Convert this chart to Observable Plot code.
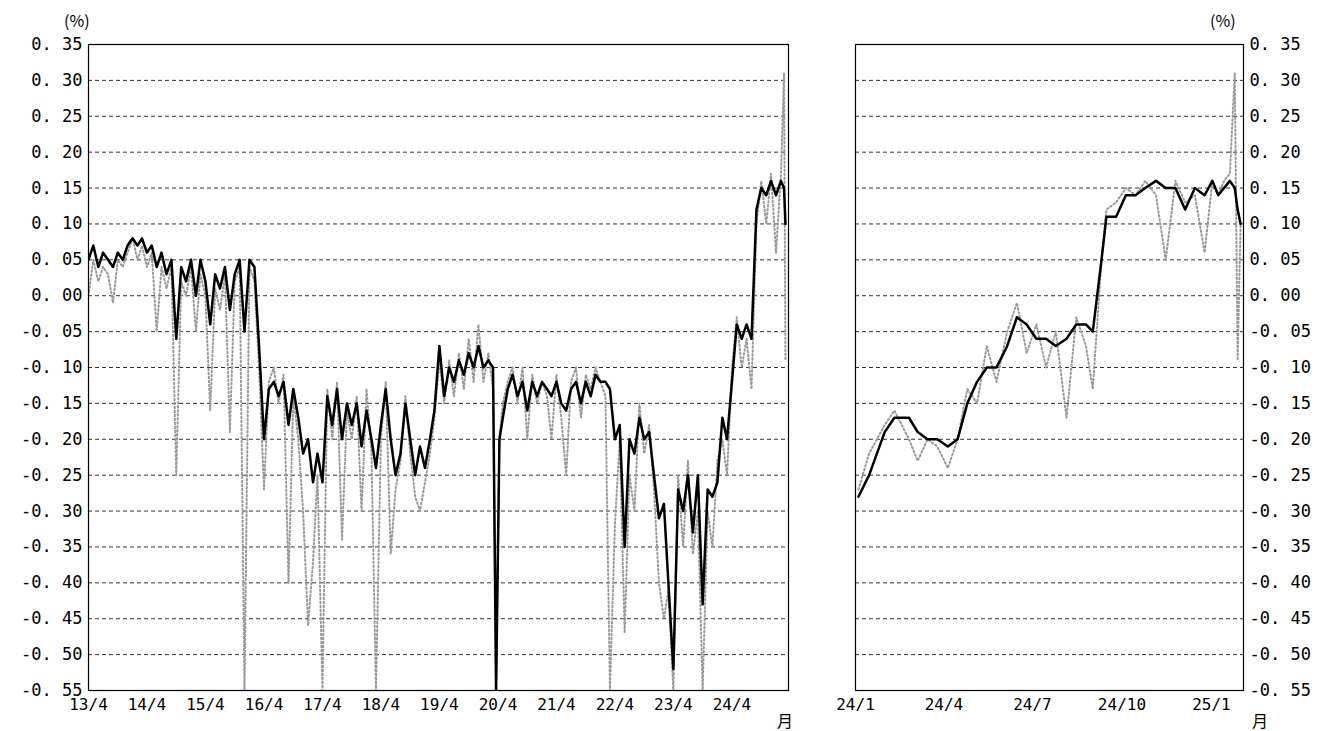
<!DOCTYPE html>
<html><head><meta charset="utf-8">
<script src="https://cdn.jsdelivr.net/npm/d3@7"></script>
<script src="https://cdn.jsdelivr.net/npm/@observablehq/plot@0.6"></script>
<style>
body{margin:0;background:#fff;font-family:"DejaVu Sans Mono","Noto Sans CJK JP",monospace;}
#wrap{position:relative;width:1323px;height:731px;}
.p{position:absolute;top:0}
.lbl{position:absolute;font-size:16px;font-family:"Noto Sans CJK JP",sans-serif;}
</style></head><body>
<div id="wrap">
<div class="p" id="left" style="left:0"></div>
<div class="p" id="right" style="left:815px"></div>
<div class="lbl" style="left:64px;top:8px">(%)</div>
<div class="lbl" style="left:1210px;top:8px">(%)</div>
<div class="lbl" style="left:777px;top:708px">月</div>
<div class="lbl" style="left:1252px;top:708px">月</div>
</div>
<script>
const yTicks = [0.35,0.30,0.25,0.20,0.15,0.10,0.05,0.00,-0.05,-0.10,-0.15,-0.20,-0.25,-0.30,-0.35,-0.40,-0.45,-0.50,-0.55];
const leftTickDates = ["2013-04-01","2014-04-01","2015-04-01","2016-04-01","2017-04-01","2018-04-01","2019-04-01","2020-04-01","2021-04-01","2022-04-01","2023-04-01","2024-04-01"];
const rightTickDates = ["2024-01-01","2024-04-01","2024-07-01","2024-10-01","2025-01-01"];

const leftDates = ["2013-04-01","2013-05-01","2013-06-01","2013-07-01","2013-08-01","2013-09-01","2013-10-01","2013-11-01","2013-12-01","2014-01-01","2014-02-01","2014-03-01","2014-04-01","2014-05-01","2014-06-01","2014-07-01","2014-08-01","2014-09-01","2014-10-01","2014-11-01","2014-12-01","2015-01-01","2015-02-01","2015-03-01","2015-04-01","2015-05-01","2015-06-01","2015-07-01","2015-08-01","2015-09-01","2015-10-01","2015-11-01","2015-12-01","2016-01-01","2016-02-01","2016-03-01","2016-04-01","2016-05-01","2016-06-01","2016-07-01","2016-08-01","2016-09-01","2016-10-01","2016-11-01","2016-12-01","2017-01-01","2017-02-01","2017-03-01","2017-04-01","2017-05-01","2017-06-01","2017-07-01","2017-08-01","2017-09-01","2017-10-01","2017-11-01","2017-12-01","2018-01-01","2018-02-01","2018-03-01","2018-04-01","2018-05-01","2018-06-01","2018-07-01","2018-08-01","2018-09-01","2018-10-01","2018-11-01","2018-12-01","2019-01-01","2019-02-01","2019-03-01","2019-04-01","2019-05-01","2019-06-01","2019-07-01","2019-08-01","2019-09-01","2019-10-01","2019-11-01","2019-12-01","2020-01-01","2020-02-01","2020-03-01","2020-03-20","2020-04-10","2020-05-01","2020-06-01","2020-07-01","2020-08-01","2020-09-01","2020-10-01","2020-11-01","2020-12-01","2021-01-01","2021-02-01","2021-03-01","2021-04-01","2021-05-01","2021-06-01","2021-07-01","2021-08-01","2021-09-01","2021-10-01","2021-11-01","2021-12-01","2022-01-01","2022-02-01","2022-03-01","2022-04-01","2022-05-01","2022-06-01","2022-07-01","2022-08-01","2022-09-01","2022-10-01","2022-11-01","2022-12-01","2023-01-01","2023-02-01","2023-03-01","2023-04-01","2023-05-01","2023-06-01","2023-07-01","2023-08-01","2023-09-01","2023-10-01","2023-11-01","2023-12-01","2024-01-01","2024-02-01","2024-03-01","2024-04-01","2024-05-01","2024-06-01","2024-07-01","2024-08-01","2024-09-01","2024-10-01","2024-11-01","2024-12-01","2025-01-01","2025-02-01","2025-02-20","2025-03-01"];
const leftMA = [0.05,0.07,0.04,0.06,0.05,0.04,0.06,0.05,0.07,0.08,0.07,0.08,0.06,0.07,0.04,0.06,0.03,0.05,-0.06,0.04,0.02,0.05,0.00,0.05,0.02,-0.04,0.03,0.01,0.04,-0.02,0.03,0.05,-0.05,0.05,0.04,-0.07,-0.20,-0.13,-0.12,-0.14,-0.12,-0.18,-0.13,-0.17,-0.22,-0.20,-0.26,-0.22,-0.26,-0.14,-0.18,-0.13,-0.20,-0.15,-0.18,-0.15,-0.21,-0.16,-0.20,-0.24,-0.18,-0.13,-0.20,-0.25,-0.22,-0.15,-0.20,-0.25,-0.21,-0.24,-0.20,-0.16,-0.07,-0.14,-0.10,-0.12,-0.09,-0.11,-0.08,-0.10,-0.07,-0.10,-0.09,-0.10,-0.55,-0.20,-0.17,-0.13,-0.11,-0.14,-0.12,-0.16,-0.12,-0.14,-0.12,-0.13,-0.14,-0.12,-0.15,-0.16,-0.13,-0.12,-0.15,-0.12,-0.14,-0.11,-0.12,-0.12,-0.13,-0.20,-0.18,-0.35,-0.20,-0.22,-0.17,-0.20,-0.19,-0.25,-0.31,-0.29,-0.40,-0.52,-0.27,-0.30,-0.25,-0.33,-0.25,-0.43,-0.27,-0.28,-0.26,-0.17,-0.20,-0.12,-0.04,-0.06,-0.04,-0.06,0.12,0.15,0.14,0.16,0.14,0.16,0.15,0.10];
const leftDaily = [0.00,0.05,0.02,0.04,0.03,-0.01,0.05,0.04,0.06,0.08,0.05,0.07,0.04,0.06,-0.05,0.04,0.01,0.04,-0.25,0.02,0.00,0.04,-0.05,0.03,0.00,-0.16,0.01,-0.02,0.03,-0.19,0.02,0.04,-0.55,0.04,0.02,-0.10,-0.27,-0.12,-0.10,-0.15,-0.11,-0.40,-0.14,-0.20,-0.30,-0.46,-0.37,-0.25,-0.55,-0.13,-0.20,-0.12,-0.34,-0.16,-0.20,-0.14,-0.30,-0.13,-0.22,-0.55,-0.20,-0.12,-0.36,-0.27,-0.23,-0.14,-0.22,-0.28,-0.30,-0.26,-0.22,-0.17,-0.09,-0.15,-0.09,-0.14,-0.08,-0.13,-0.06,-0.12,-0.04,-0.12,-0.08,-0.13,-0.55,-0.20,-0.15,-0.12,-0.10,-0.15,-0.10,-0.20,-0.11,-0.15,-0.12,-0.14,-0.20,-0.11,-0.17,-0.25,-0.12,-0.10,-0.17,-0.11,-0.13,-0.10,-0.12,-0.14,-0.55,-0.32,-0.20,-0.47,-0.25,-0.30,-0.15,-0.22,-0.18,-0.27,-0.40,-0.45,-0.41,-0.55,-0.25,-0.35,-0.23,-0.36,-0.30,-0.55,-0.30,-0.35,-0.23,-0.20,-0.25,-0.10,-0.03,-0.10,-0.06,-0.13,0.10,0.16,0.10,0.17,0.06,0.17,0.31,-0.09];

const rightDates = ["2024-01-04","2024-01-15","2024-01-31","2024-02-10","2024-02-25","2024-03-05","2024-03-15","2024-03-25","2024-04-05","2024-04-15","2024-04-25","2024-05-05","2024-05-15","2024-05-25","2024-06-05","2024-06-15","2024-06-25","2024-07-05","2024-07-15","2024-07-25","2024-08-05","2024-08-15","2024-08-25","2024-09-01","2024-09-10","2024-09-15","2024-09-25","2024-10-05","2024-10-15","2024-10-25","2024-11-05","2024-11-15","2024-11-25","2024-12-05","2024-12-15","2024-12-25","2025-01-02","2025-01-08","2025-01-14","2025-01-20","2025-01-25","2025-01-28","2025-01-31"];
const rightMA = [-0.28,-0.25,-0.19,-0.17,-0.17,-0.19,-0.20,-0.20,-0.21,-0.20,-0.15,-0.12,-0.10,-0.10,-0.07,-0.03,-0.04,-0.06,-0.06,-0.07,-0.06,-0.04,-0.04,-0.05,0.05,0.11,0.11,0.14,0.14,0.15,0.16,0.15,0.15,0.12,0.15,0.14,0.16,0.14,0.15,0.16,0.15,0.12,0.10];
const rightDaily = [-0.27,-0.22,-0.18,-0.16,-0.20,-0.23,-0.20,-0.21,-0.24,-0.20,-0.13,-0.15,-0.07,-0.12,-0.05,-0.01,-0.08,-0.04,-0.10,-0.05,-0.17,-0.03,-0.07,-0.13,0.05,0.12,0.13,0.15,0.14,0.16,0.14,0.05,0.16,0.13,0.14,0.06,0.16,0.14,0.16,0.17,0.31,-0.09,0.10];

const parse = d3.utcParse("%Y-%m-%d");
const fmtY = d => (d < -1e-9 ? "-" : "") + Math.abs(d).toFixed(2).replace(".", ". ");
const leftRows = leftDates.map((d,i)=>({date:parse(d), ma:leftMA[i], daily:leftDaily[i]}));
const rightRows = rightDates.map((d,i)=>({date:parse(d), ma:rightMA[i], daily:rightDaily[i]}));

function panel(rows, opts){
  return Plot.plot({
    width: opts.width, height: 731,
    marginTop: 44, marginBottom: 41, marginLeft: opts.ml, marginRight: opts.mr,
    style:{fontFamily:'"DejaVu Sans Mono",monospace', fontSize:"16px", color:"#000", background:"#fff", overflow:"visible"},
    x:{type:"utc", domain: opts.domain, label:null},
    y:{domain:[-0.55,0.35], label:null},
    marks:[
      Plot.ruleY(yTicks.slice(1,-1), {stroke:"#000", strokeWidth:0.8, strokeDasharray:"4,3"}),
      Plot.line(rows, {x:"date", y:"daily", stroke:"#999", strokeWidth:2, strokeDasharray:"1.5,2.5", clip:true}),
      Plot.line(rows, {x:"date", y:"ma", stroke:"#000", strokeWidth:2.5, clip:true}),
      Plot.frame({stroke:"#000", strokeWidth:1.2}),
      Plot.axisY({anchor: opts.yAnchor, ticks:yTicks, tickFormat:fmtY, tickSize:0, tickPadding:6, label:null, fontSize:17}),
      Plot.axisX({ticks: opts.ticks.map(parse), tickFormat: opts.fmt, tickSize:0, tickPadding:8, label:null, fontSize:16})
    ]
  });
}
const fmtLeft = d3.utcFormat("%y/%-m");
document.getElementById("left").appendChild(panel(leftRows, {width:800, ml:88, mr:12, domain:[parse("2013-04-01"), parse("2025-03-20")], ticks:leftTickDates, fmt:fmtLeft, yAnchor:"left"}));
document.getElementById("right").appendChild(panel(rightRows, {width:508, ml:40, mr:80, domain:[parse("2024-01-01"), parse("2025-02-03")], ticks:rightTickDates, fmt:fmtLeft, yAnchor:"right"}));
</script>
</body></html>
